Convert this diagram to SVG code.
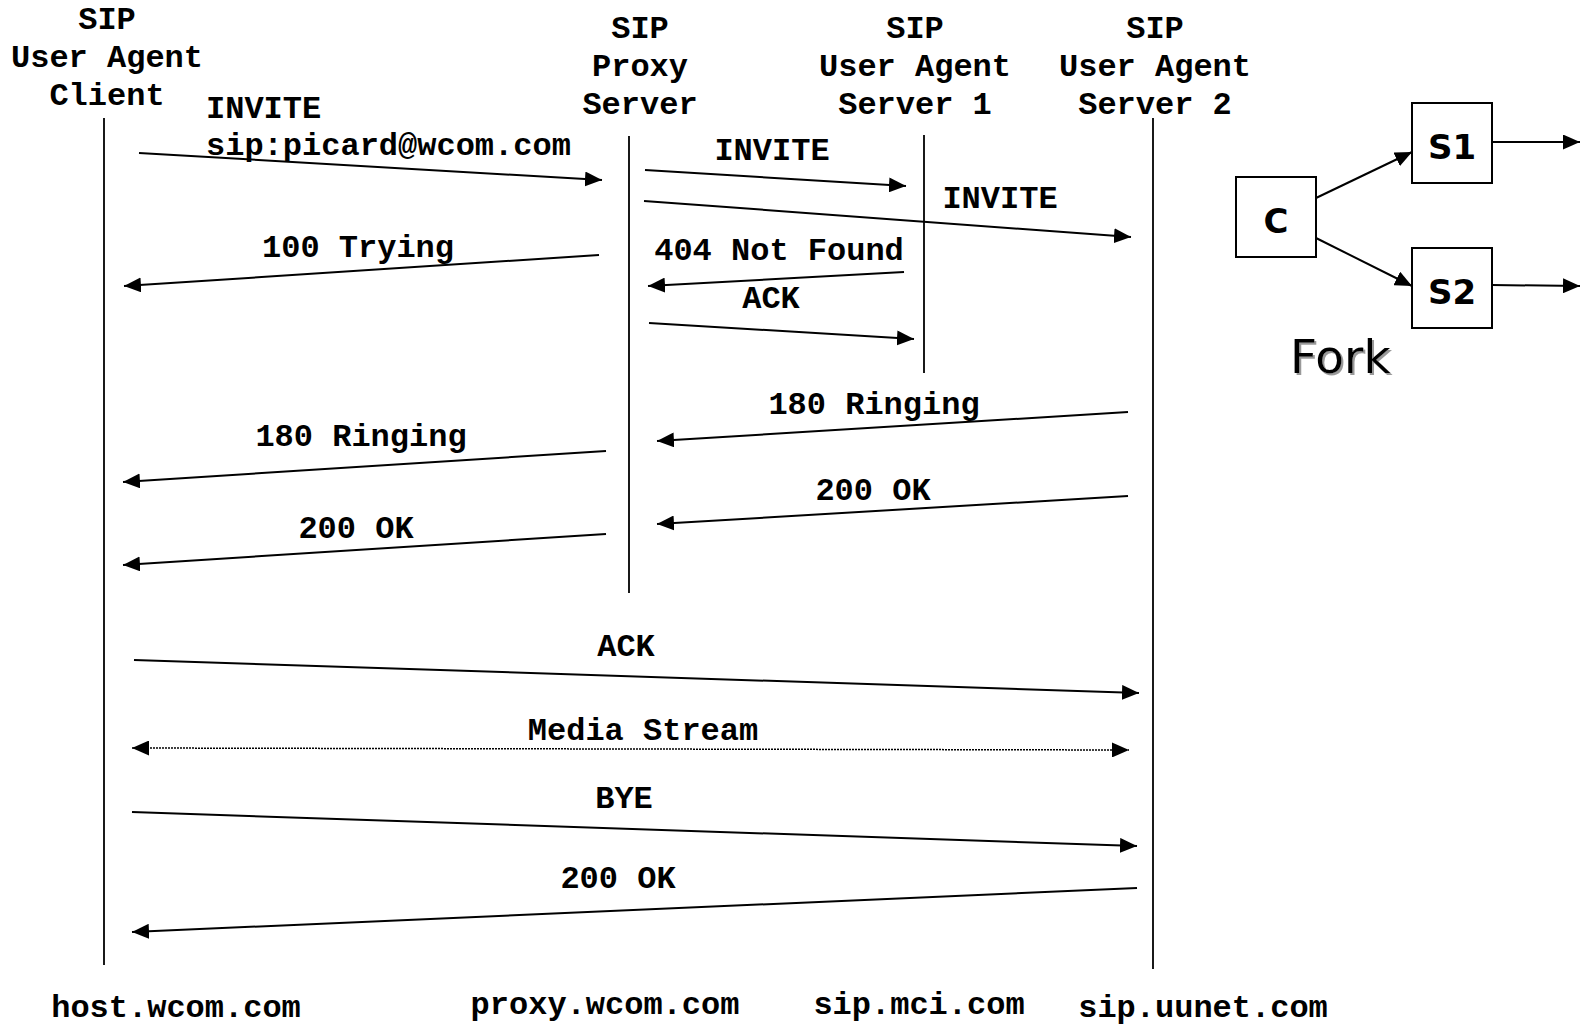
<svg xmlns="http://www.w3.org/2000/svg" width="1585" height="1026" viewBox="0 0 1585 1026">
<style>
  .t { font-family: "Liberation Mono", "Courier New", monospace; font-weight: bold; font-size: 32px; fill: #000; }
  .m { text-anchor: middle; }
  .life { stroke: #000; stroke-width: 1.8; fill: none; }
  .msg { stroke: #000; stroke-width: 2; fill: none; marker-end: url(#ah); }
  .dot { stroke: #000; stroke-width: 1.5; fill: none; stroke-dasharray: 2 1; marker-end: url(#ah); marker-start: url(#ah); }
  .box { fill: #fff; stroke: #000; stroke-width: 2; }
  .bl { font-family: "DejaVu Sans", Verdana, sans-serif; font-weight: bold; font-size: 34px; text-anchor: middle; fill: #000; }
  .fork { font-family: "DejaVu Sans", Verdana, sans-serif; font-size: 47px; fill: #000; }
</style>
<defs>
  <marker id="ah" markerUnits="userSpaceOnUse" markerWidth="17" markerHeight="15" refX="17" refY="7.5" orient="auto-start-reverse">
    <path d="M0,0 L17,7.5 L0,15 z" fill="#000"/>
  </marker>
  <filter id="sh" x="-10%" y="-10%" width="130%" height="130%">
    <feDropShadow dx="2" dy="2" stdDeviation="0.5" flood-color="#999" flood-opacity="1"/>
  </filter>
</defs>
<rect width="1585" height="1026" fill="#fff"/>

<g id="client">
  <text class="t m" x="107" y="29">SIP</text>
  <text class="t m" x="107" y="67">User Agent</text>
  <text class="t m" x="107" y="105">Client</text>
  <line class="life" x1="104" y1="118" x2="104" y2="965"/>
  <text class="t m" x="176" y="1017">host.wcom.com</text>
</g>
<g id="proxy">
  <text class="t m" x="640" y="38">SIP</text>
  <text class="t m" x="640" y="76">Proxy</text>
  <text class="t m" x="640" y="114">Server</text>
  <line class="life" x1="629" y1="136" x2="629" y2="593"/>
  <text class="t m" x="605" y="1014">proxy.wcom.com</text>
</g>
<g id="uas1">
  <text class="t m" x="915" y="38">SIP</text>
  <text class="t m" x="915" y="76">User Agent</text>
  <text class="t m" x="915" y="114">Server 1</text>
  <line class="life" x1="924" y1="135" x2="924" y2="373"/>
  <text class="t m" x="919" y="1014">sip.mci.com</text>
</g>
<g id="uas2">
  <text class="t m" x="1155" y="38">SIP</text>
  <text class="t m" x="1155" y="76">User Agent</text>
  <text class="t m" x="1155" y="114">Server 2</text>
  <line class="life" x1="1153" y1="118" x2="1153" y2="969"/>
  <text class="t m" x="1203" y="1017">sip.uunet.com</text>
</g>

<g id="connectors">
  <line class="msg" x1="139" y1="153" x2="602" y2="180"/>
  <text class="t" x="206" y="118">INVITE</text>
  <text class="t" x="206" y="155">sip:picard@wcom.com</text>

  <line class="msg" x1="599" y1="255" x2="124" y2="286"/>
  <text class="t m" x="358" y="257">100 Trying</text>

  <line class="msg" x1="645" y1="170" x2="906" y2="186"/>
  <text class="t m" x="772" y="160">INVITE</text>

  <line class="msg" x1="644" y1="201" x2="1131" y2="237"/>
  <text class="t m" x="1000" y="208">INVITE</text>

  <line class="msg" x1="904" y1="272" x2="648" y2="286"/>
  <text class="t m" x="779" y="260">404 Not Found</text>

  <line class="msg" x1="649" y1="323" x2="914" y2="339"/>
  <text class="t m" x="771" y="308">ACK</text>

  <line class="msg" x1="1128" y1="412" x2="657" y2="441"/>
  <text class="t m" x="874" y="414">180 Ringing</text>

  <line class="msg" x1="606" y1="451" x2="123" y2="482"/>
  <text class="t m" x="361" y="446">180 Ringing</text>

  <line class="msg" x1="1128" y1="496" x2="657" y2="524"/>
  <text class="t m" x="873" y="500">200 OK</text>

  <line class="msg" x1="606" y1="534" x2="123" y2="565"/>
  <text class="t m" x="356" y="538">200 OK</text>

  <line class="msg" x1="134" y1="660" x2="1139" y2="693"/>
  <text class="t m" x="626" y="656">ACK</text>

  <line class="dot" x1="132" y1="748" x2="1129" y2="750"/>
  <text class="t m" x="643" y="740">Media Stream</text>

  <line class="msg" x1="132" y1="812" x2="1137" y2="846"/>
  <text class="t m" x="624" y="808">BYE</text>

  <line class="msg" x1="1137" y1="888" x2="132" y2="932"/>
  <text class="t m" x="618" y="888">200 OK</text>
</g>

<g id="fork-c">
  <rect class="box" x="1236" y="177" width="80" height="80"/>
  <text class="bl" x="1276" y="233">C</text>
</g>
<g id="fork-s1">
  <rect class="box" x="1412" y="103" width="80" height="80"/>
  <text class="bl" x="1452" y="159">S1</text>
</g>
<g id="fork-s2">
  <rect class="box" x="1412" y="248" width="80" height="80"/>
  <text class="bl" x="1452" y="304">S2</text>
</g>
<g id="fork-connectors">
  <line class="msg" x1="1316" y1="198" x2="1412" y2="152"/>
  <line class="msg" x1="1316" y1="238" x2="1412" y2="286"/>
  <line class="msg" x1="1492" y1="142" x2="1580" y2="142"/>
  <line class="msg" x1="1492" y1="285" x2="1580" y2="286"/>
</g>
<text class="fork" x="1290" y="373" filter="url(#sh)">Fork</text>
</svg>
